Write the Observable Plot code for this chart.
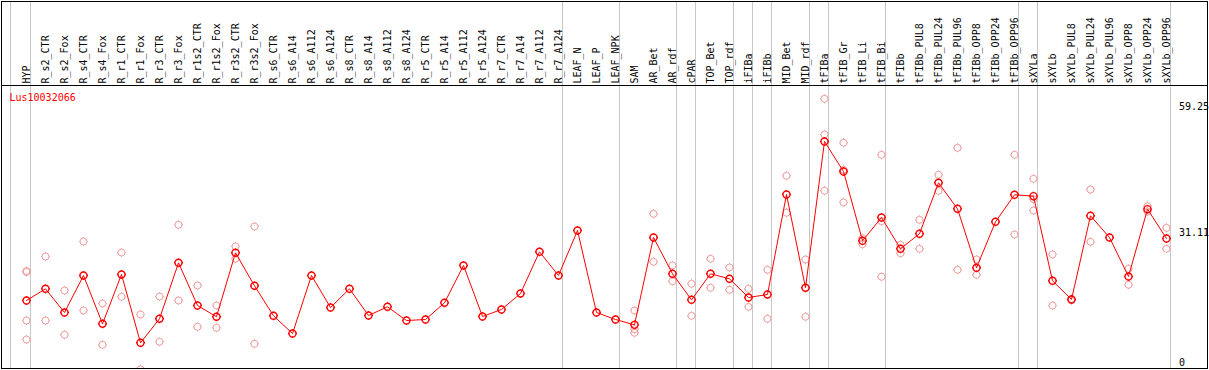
<!DOCTYPE html>
<html>
<head>
<meta charset="utf-8">
<script src="https://cdn.jsdelivr.net/npm/d3@7"></script>
<script src="https://cdn.jsdelivr.net/npm/@observablehq/plot@0.6"></script>
<style>
  html, body { margin: 0; padding: 0; background: #fff; }
  svg { display: block; }
</style>
</head>
<body>
<script>
const title = "Lus10032066";

const names = [
  "HYP", "R_s2_CTR", "R_s2_Fox", "R_s4_CTR", "R_s4_Fox", "R_r1_CTR", "R_r1_Fox",
  "R_r3_CTR", "R_r3_Fox", "R_r1s2_CTR", "R_r1s2_Fox", "R_r3s2_CTR", "R_r3s2_Fox",
  "R_s6_CTR", "R_s6_A14", "R_s6_A112", "R_s6_A124", "R_s8_CTR", "R_s8_A14",
  "R_s8_A112", "R_s8_A124", "R_r5_CTR", "R_r5_A14", "R_r5_A112", "R_r5_A124",
  "R_r7_CTR", "R_r7_A14", "R_r7_A112", "R_r7_A124", "LEAF_N", "LEAF_P", "LEAF_NPK",
  "SAM", "AR_Bet", "AR_rdf", "cPAR", "TOP_Bet", "TOP_rdf", "iFIBa", "iFIBb",
  "MID_Bet", "MID_rdf", "tFIBa", "tFIB_Gr", "tFIB_Li", "tFIB_Bi", "tFIBb",
  "tFIBb_PUL8", "tFIBb_PUL24", "tFIBb_PUL96", "tFIBb_OPP8", "tFIBb_OPP24",
  "tFIBb_OPP96", "sXYLa", "sXYLb", "sXYLb_PUL8", "sXYLb_PUL24", "sXYLb_PUL96",
  "sXYLb_OPP8", "sXYLb_OPP24", "sXYLb_OPP96"
];

const means = [
  14.94, 17.56, 12.24, 20.55, 9.70, 20.78, 5.43,
  10.83, 23.40, 13.81, 11.28, 25.65, 18.24,
  11.50, 7.52, 20.55, 13.36, 17.56, 11.57,
  13.52, 10.44, 10.67, 14.42, 22.80, 11.34,
  12.92, 16.51, 25.87, 20.55, 30.66, 12.24, 10.67,
  9.47, 29.09, 20.93, 15.09, 20.93, 19.81, 15.61, 16.28,
  38.75, 17.79, 50.65, 43.91, 28.35, 33.58, 26.55,
  29.92, 41.37, 35.53, 22.28, 32.61,
  38.68, 38.37, 19.36, 15.16, 33.96, 29.09,
  20.33, 35.45, 28.86
];

const replicates = [
  [21.56, 21.34, 10.44, 6.18], [24.82, 10.44], [17.18, 7.23], [28.19, 12.69], [14.26, 4.98], [25.72, 15.77], [11.79, -0.5],
  [15.84, 5.66], [31.94, 14.94], [18.31, 9.03], [13.81, 8.80], [27.07, 24.30], [31.56, 5.21],
  [], [], [], [], [], [],
  [], [], [], [], [], [],
  [], [], [], [], [], [], [],
  [12.69, 8.50, 7.68], [34.40, 23.63], [22.80, 19.27], [18.69, 11.50], [24.30, 17.79], [22.35, 17.34], [17.56, 13.52], [21.83, 10.83],
  [42.94, 34.64], [24.15, 11.28], [60.24, 52.22, 39.58], [50.36, 44.29, 36.95], [28.93, 27.58], [47.66, 32.75, 20.26], [27.45, 25.56],
  [33.06, 26.55], [43.17, 39.58], [49.24, 21.83], [24.15, 20.71], [],
  [47.66, 29.76], [42.27, 37.69, 35.15], [25.27, 13.81], [15.3, 15.0], [39.87, 28.12], [],
  [22.06, 18.46], [36.12, 34.93], [31.27, 26.55]
];

// group separators are drawn just after these columns
const groupEnds = ["HYP", "R_r7_A124", "LEAF_NPK", "AR_rdf", "cPAR", "TOP_rdf", "iFIBa",
  "iFIBb", "MID_rdf", "tFIBa", "tFIB_Bi", "tFIBb_OPP96", "sXYLa", "sXYLb_OPP96"];

const yTickValues = [59.25, 31.11, 0];
const yTickLabels = ["59.25", "31.11", "0"];

const meanRows = names.map((n, i) => ({name: n, value: means[i]}));
const repRows = names.flatMap((n, i) => replicates[i].map(v => ({name: n, value: v})));
const tickRows = yTickValues.map((v, i) => ({value: v, label: yTickLabels[i]}));

const mono = "DejaVu Sans Mono";

const tickedCircle = {
  draw(ctx, size) {
    const r = Math.sqrt(size / Math.PI);
    const t = 1.0;
    ctx.moveTo(r, 0);
    ctx.arc(0, 0, r, 0, 2 * Math.PI);
    ctx.moveTo(0, -r); ctx.lineTo(0, -r - t);
    ctx.moveTo(0, r); ctx.lineTo(0, r + t);
    ctx.moveTo(-r, 0); ctx.lineTo(-r - t, 0);
    ctx.moveTo(r, 0); ctx.lineTo(r + t, 0);
  }
};

const chart = Plot.plot({
  width: 1209,
  height: 370,
  marginLeft: 1,
  marginTop: 1,
  marginRight: 2,
  marginBottom: 2,
  style: {fontFamily: mono, fontSize: "10px", background: "#fff", color: "#000"},
  x: {type: "point", domain: names, range: [26, 1166], padding: 0, axis: null},
  y: {type: "linear", domain: [0, 59.25], range: [366.5, 102.7], axis: null},
  marks: [
    // group separators
    Plot.ruleX([names[0]], {x: d => d, dx: -16, stroke: "#c8c8c8", strokeWidth: 1}),
    Plot.ruleX(groupEnds, {x: d => d, dx: 4, stroke: "#c8c8c8", strokeWidth: 1}),
    // mid reference line
    Plot.ruleY([yTickValues[1]], {y: d => d, x1: names[0], x2: names[names.length - 1],
      insetLeft: -25, insetRight: -4, stroke: "#c8c8c8", strokeWidth: 1}),
    // replicate points
    Plot.dot(repRows, {x: "name", y: "value", r: 3.5, symbol: tickedCircle,
      fill: "none", stroke: "#f29c9c", strokeWidth: 1, clip: true}),
    // mean line and points
    Plot.line(meanRows, {x: "name", y: "value", stroke: "#ff0000", strokeWidth: 1}),
    Plot.dot(meanRows, {x: "name", y: "value", r: 3.5, symbol: tickedCircle,
      fill: "none", stroke: "#ff0000", strokeWidth: 1.4}),
    // header labels
    Plot.text(names, {x: d => d, text: d => d, frameAnchor: "top", dy: 82, rotate: -90,
      textAnchor: "start", lineAnchor: "middle", fill: "#000", fontFamily: mono, fontSize: 10}),
    // right axis labels
    Plot.text(tickRows.slice(0, 2), {y: "value", text: "label", frameAnchor: "right", dx: -28.5,
      textAnchor: "start", lineAnchor: "top", fill: "#000", fontFamily: mono, fontSize: 10}),
    Plot.text(tickRows.slice(2), {y: "value", text: "label", frameAnchor: "right", dx: -28.5, dy: -1,
      textAnchor: "start", lineAnchor: "bottom", fill: "#000", fontFamily: mono, fontSize: 10}),
    // gene title
    Plot.text([title], {text: d => d, frameAnchor: "top-left", dx: 8, dy: 99.5,
      textAnchor: "start", lineAnchor: "bottom", fill: "#ff0000", fontFamily: mono, fontSize: 10}),
    // borders
    Plot.frame({anchor: "top", dy: 84, stroke: "#000"}),
    Plot.frame({stroke: "#000"})
  ]
});

document.body.appendChild(chart);
</script>
</body>
</html>
